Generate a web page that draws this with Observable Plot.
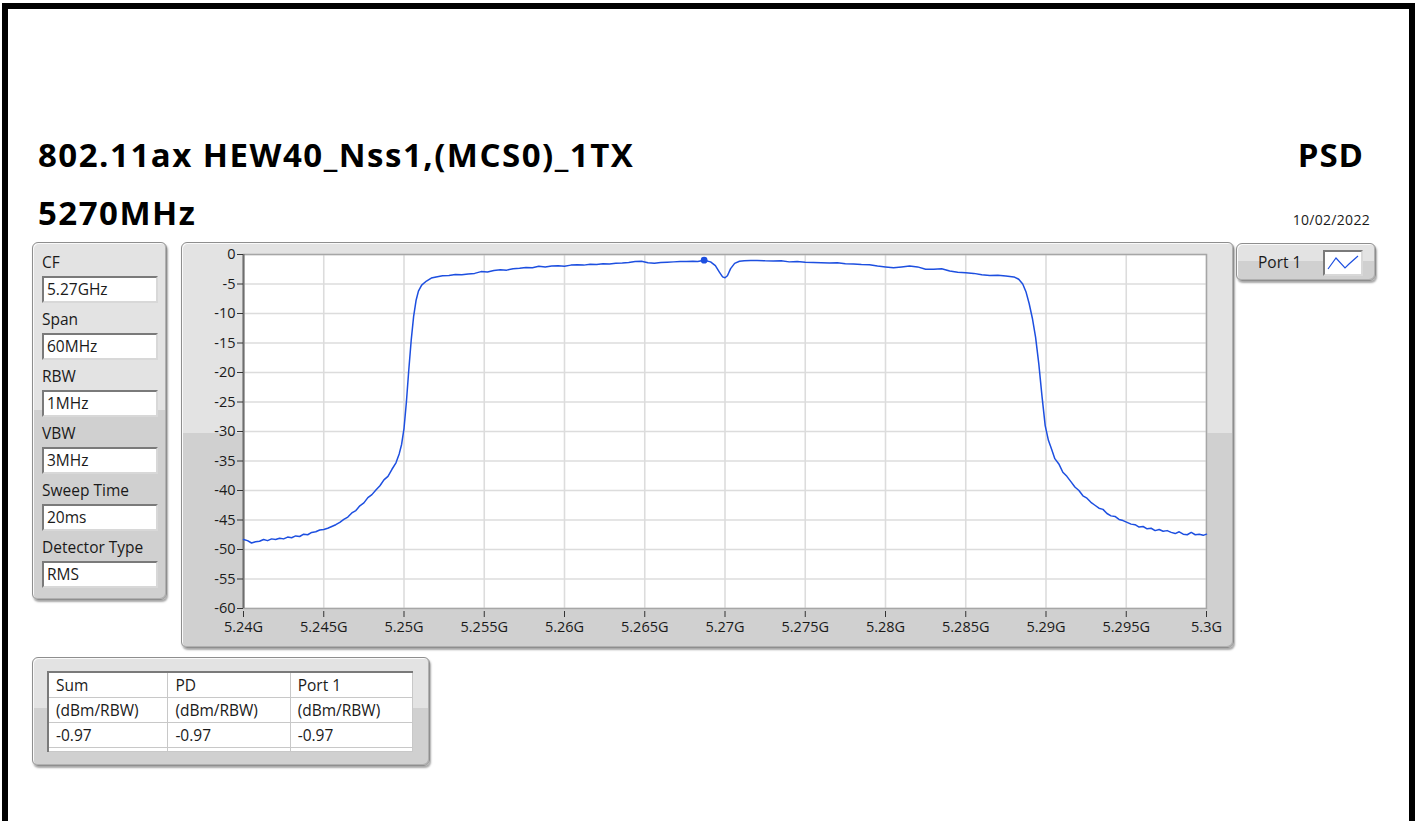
<!DOCTYPE html>
<html>
<head>
<meta charset="utf-8">
<script src="https://cdn.jsdelivr.net/npm/d3@7"></script>
<script src="https://cdn.jsdelivr.net/npm/@observablehq/plot@0.6"></script>
<style>
  html, body { margin: 0; padding: 0; background: #fff; }
  body { width: 1419px; height: 821px; overflow: hidden; position: relative; font-family: "Open Sans", "Noto Sans", sans-serif; color: #1a1a1a; }
  #frame { position: absolute; left: 2px; top: 3px; width: 1401px; height: 900px; border: 6px solid #000; border-bottom: none; }
  .t { position: absolute; white-space: nowrap; }
  .big { font-weight: 700; font-size: 33px; line-height: 1; color: #000; letter-spacing: 1.5px; }
  .panel { position: absolute; box-sizing: border-box; border: 1px solid #8e8e8e; border-radius: 6px;
           background: linear-gradient(#e3e3e3 0%, #e3e3e3 47%, #d0d0d0 47%, #d0d0d0 100%);
           box-shadow: inset 1px 1px 0 #fafafa, inset -1px -1px 0 #b0b0b0, 1px 2px 2px rgba(0,0,0,0.35); }
  .lbl { position: absolute; font-size: 15.5px; line-height: 18px; }
  .box { position: absolute; box-sizing: border-box; background: #fff; border: 2px solid; border-color: #7a7a7a #d8d8d8 #d8d8d8 #7a7a7a; font-size: 15.5px; line-height: 22px; padding-left: 3px; }
  table { position: absolute; border-collapse: collapse; background: #fff; font-size: 15.5px; }
  td { border: 1px solid #c8c8c8; padding: 0 0 0 7px; height: 24px; line-height: 24px; white-space: nowrap; }
  #plot { position: absolute; left: 181px; top: 242px; }
</style>
</head>
<body>
<div id="frame"></div>

<div class="t big" id="title" style="left:38px; top:138px;"></div>
<div class="t big" id="subtitle" style="left:38px; top:196px;"></div>
<div class="t big" id="psd" style="right:55px; top:138px; letter-spacing:1px;"></div>
<div class="t" id="date" style="right:49px; top:210px; font-size:14px; letter-spacing:0.3px;"></div>

<div class="panel" style="left:32px; top:242px; width:135px; height:358px;" id="params"></div>
<div class="panel" style="left:181px; top:242px; width:1053px; height:406px;"></div>
<div id="plot"></div>
<div class="panel" style="left:1236px; top:243px; width:140px; height:38px;" id="legend"></div>
<div class="panel" style="left:32px; top:657px; width:398px; height:109px;" id="tpanel"></div>

<script>
// ---------- text content ----------
const titleText = "802.11ax HEW40_Nss1,(MCS0)_1TX";
const subtitleText = "5270MHz";
const kindText = "PSD";
const dateText = "10/02/2022";
const paramLabels = ["CF", "Span", "RBW", "VBW", "Sweep Time", "Detector Type"];
const paramValues = ["5.27GHz", "60MHz", "1MHz", "3MHz", "20ms", "RMS"];
const tableHeaders = ["Sum", "PD", "Port 1"];
const tableUnits = ["(dBm/RBW)", "(dBm/RBW)", "(dBm/RBW)"];
const tableValues = ["-0.97", "-0.97", "-0.97"];
const seriesName = "Port 1";

// ---------- axis ticks ----------
const xTicks = [5.24, 5.245, 5.25, 5.255, 5.26, 5.265, 5.27, 5.275, 5.28, 5.285, 5.29, 5.295, 5.3];
const xTickLabels = ["5.24G", "5.245G", "5.25G", "5.255G", "5.26G", "5.265G", "5.27G", "5.275G", "5.28G", "5.285G", "5.29G", "5.295G", "5.3G"];
const yTicks = [0, -5, -10, -15, -20, -25, -30, -35, -40, -45, -50, -55, -60];

// ---------- trace ----------
const freqMHz = [
  5240.00, 5240.25, 5240.50, 5240.75, 5241.00, 5241.25, 5241.50, 5241.75, 5242.00, 5242.25,
  5242.50, 5242.75, 5243.00, 5243.25, 5243.50, 5243.75, 5244.00, 5244.25, 5244.50, 5244.75,
  5245.00, 5245.25, 5245.50, 5245.75, 5246.00, 5246.25, 5246.50, 5246.75, 5247.00, 5247.25,
  5247.50, 5247.75, 5248.00, 5248.25, 5248.50, 5248.75, 5249.00, 5249.25, 5249.50, 5249.70,
  5249.85, 5250.00, 5250.15, 5250.30, 5250.45, 5250.60, 5250.75, 5250.90, 5251.10, 5251.40,
  5251.70, 5252.00, 5252.40, 5252.80, 5253.20, 5253.60, 5254.00, 5254.40, 5254.80, 5255.20,
  5255.60, 5256.00, 5256.40, 5256.80, 5257.20, 5257.60, 5258.00, 5258.40, 5258.80, 5259.20,
  5259.60, 5260.00, 5260.40, 5260.80, 5261.20, 5261.60, 5262.00, 5262.40, 5262.80, 5263.20,
  5263.60, 5264.00, 5264.40, 5264.80, 5265.20, 5265.60, 5266.00, 5266.40, 5266.80, 5267.20,
  5267.60, 5268.00, 5268.30, 5268.70, 5269.10, 5269.40, 5269.65, 5269.85, 5270.00, 5270.15,
  5270.35, 5270.60, 5270.90, 5271.20, 5271.60, 5272.00, 5272.50, 5273.00, 5273.50, 5274.00,
  5274.50, 5275.00, 5275.50, 5276.00, 5276.50, 5277.00, 5277.50, 5278.00, 5278.50, 5279.00,
  5279.50, 5280.00, 5280.50, 5281.00, 5281.50, 5282.00, 5282.50, 5283.00, 5283.50, 5284.00,
  5284.50, 5285.00, 5285.50, 5286.00, 5286.50, 5287.00, 5287.50, 5288.00, 5288.30, 5288.55,
  5288.75, 5288.95, 5289.15, 5289.35, 5289.55, 5289.75, 5289.95, 5290.15, 5290.35, 5290.55,
  5290.80, 5291.05, 5291.30, 5291.55, 5291.80, 5292.05, 5292.30, 5292.55, 5292.80, 5293.05,
  5293.30, 5293.55, 5293.80, 5294.05, 5294.30, 5294.55, 5294.80, 5295.05, 5295.30, 5295.55,
  5295.80, 5296.05, 5296.30, 5296.55, 5296.80, 5297.05, 5297.30, 5297.55, 5297.80, 5298.05,
  5298.30, 5298.55, 5298.80, 5299.05, 5299.30, 5299.55, 5299.80, 5300.00
];
const levelDbm = [
  -48.3, -48.5, -48.9, -48.7, -48.6, -48.3, -48.5, -48.2, -48.3, -48.1,
  -48.2, -47.9, -48.0, -47.7, -47.8, -47.4, -47.5, -47.1, -47.0, -46.7,
  -46.6, -46.4, -46.1, -45.8, -45.4, -44.9, -44.5, -43.8, -43.4, -42.6,
  -42.1, -41.2, -40.7, -39.9, -39.2, -38.2, -37.6, -36.4, -35.3, -33.8,
  -32.2, -29.5, -25.0, -19.5, -14.5, -10.5, -7.8, -6.2, -5.2, -4.5,
  -4.0, -3.8, -3.6, -3.55, -3.4, -3.45, -3.3, -3.2, -2.9, -2.95,
  -2.7, -2.6, -2.65, -2.4, -2.35, -2.2, -2.25, -2.0, -2.1, -1.95,
  -1.9, -2.0, -1.8, -1.75, -1.8, -1.65, -1.7, -1.55, -1.6, -1.5,
  -1.45, -1.35, -1.2, -1.15, -1.4, -1.5, -1.35, -1.3, -1.25, -1.2,
  -1.2, -1.15, -1.2, -0.97, -1.25, -1.9, -3.0, -3.8, -3.95, -3.6,
  -2.4, -1.5, -1.15, -1.05, -1.0, -1.02, -1.08, -1.1, -1.06, -1.25,
  -1.2, -1.3, -1.35, -1.4, -1.45, -1.4, -1.55, -1.6, -1.7, -1.75,
  -1.95, -2.1, -2.25, -2.1, -1.95, -2.1, -2.5, -2.5, -2.4, -2.8,
  -3.0, -3.1, -3.2, -3.45, -3.55, -3.5, -3.65, -3.8, -4.2, -5.0,
  -6.3, -8.3, -10.8, -14.0, -18.5, -24.0, -29.0, -31.5, -33.0, -34.6,
  -35.5, -36.9, -37.6, -38.5, -39.4, -40.0, -40.9, -41.3, -42.0, -42.5,
  -43.0, -43.2, -43.9, -44.3, -44.4, -44.9, -45.1, -45.4, -45.7, -45.8,
  -46.2, -46.1, -46.5, -46.4, -46.8, -46.6, -46.9, -46.8, -47.1, -47.3,
  -47.0, -47.4, -47.5, -47.1, -47.5, -47.4, -47.6, -47.4
];

// ---------- page text ----------
document.getElementById("title").textContent = titleText;
document.getElementById("subtitle").textContent = subtitleText;
document.getElementById("psd").textContent = kindText;
document.getElementById("date").textContent = dateText;

// parameter panel (positions are layout, not data)
const params = document.getElementById("params");
paramLabels.forEach((lab, i) => {
  const top = 10 + i * 57;
  const l = document.createElement("div");
  l.className = "lbl"; l.style.left = "9px"; l.style.top = top + "px"; l.textContent = lab;
  params.appendChild(l);
  const b = document.createElement("div");
  b.className = "box"; b.style.left = "9px"; b.style.top = (top + 23) + "px";
  b.style.width = "116px"; b.style.height = "27px"; b.textContent = paramValues[i];
  params.appendChild(b);
});

// legend
const legend = document.getElementById("legend");
legend.innerHTML = `<div class="lbl" style="left:21px;top:9px;">${seriesName}</div>
<div class="box" style="left:86px;top:6px;width:40px;height:26px;padding:0;">
<svg width="36" height="22" style="position:absolute;left:0;top:0"><polyline points="3,17 11,6 20,16 24,12 33,4" fill="none" stroke="#1d4fe0" stroke-width="1.2"/></svg></div>`;

// table
const tp = document.getElementById("tpanel");
const tbl = document.createElement("table");
tbl.style.left = "14px"; tbl.style.top = "13px"; tbl.style.width = "366px";
tbl.style.borderLeft = "2px solid #7a7a7a"; tbl.style.borderTop = "2px solid #7a7a7a";
[tableHeaders, tableUnits, tableValues].forEach(row => {
  const tr = document.createElement("tr");
  row.forEach((c, j) => { const td = document.createElement("td"); td.textContent = c; td.style.width = (j === 0 ? 112 : 115) + "px"; tr.appendChild(td); });
  tbl.appendChild(tr);
});
const trx = document.createElement("tr");
for (let j = 0; j < 3; j++) { const td = document.createElement("td"); td.style.height = "3px"; td.style.lineHeight = "3px"; trx.appendChild(td); }
tbl.appendChild(trx);
tp.appendChild(tbl);

// ---------- chart ----------
const data = freqMHz.map((f, i) => ({ f: f / 1000, v: levelDbm[i] }));
const peak = d3.greatest(data, d => d.v);
const blue = "#1d4fe0";

const chart = Plot.plot({
  width: 1053,
  height: 406,
  marginLeft: 62,
  marginRight: 28,
  marginTop: 12,
  marginBottom: 40,
  style: { background: "transparent", fontFamily: "'Open Sans', 'Noto Sans', sans-serif", fontSize: "14.5px", color: "#1a1a1a", overflow: "visible" },
  x: { domain: [xTicks[0], xTicks[xTicks.length - 1]], label: null },
  y: { domain: [yTicks[yTicks.length - 1], yTicks[0]], label: null },
  marks: [
    Plot.frame({ fill: "white", stroke: "none" }),
    Plot.gridX(xTicks, { stroke: "#dcdcdc", strokeOpacity: 1, strokeWidth: 1.6 }),
    Plot.gridY(yTicks, { stroke: "#dcdcdc", strokeOpacity: 1, strokeWidth: 1.6 }),
    Plot.frame({ stroke: "#a6a6a6", strokeWidth: 1.5 }),
    Plot.ruleX([xTicks[0]], { stroke: "#6e6e6e", strokeWidth: 2 }),
    Plot.line(data, { x: "f", y: "v", stroke: blue, strokeWidth: 1.5 }),
    Plot.dot([peak], { x: "f", y: "v", r: 3.4, fill: blue, stroke: "none" }),
    Plot.axisY(yTicks, { tickSize: 6, tickPadding: 2, tickFormat: d => String(d), stroke: "#333", fontSize: 14.5 }),
    Plot.axisX(xTicks, { tickSize: 6, tickPadding: 4, dy: 3, stroke: "#333", fontSize: 14.5,
                         tickFormat: d => xTickLabels[xTicks.indexOf(d)] })
  ]
});
document.getElementById("plot").appendChild(chart);
</script>
</body>
</html>
